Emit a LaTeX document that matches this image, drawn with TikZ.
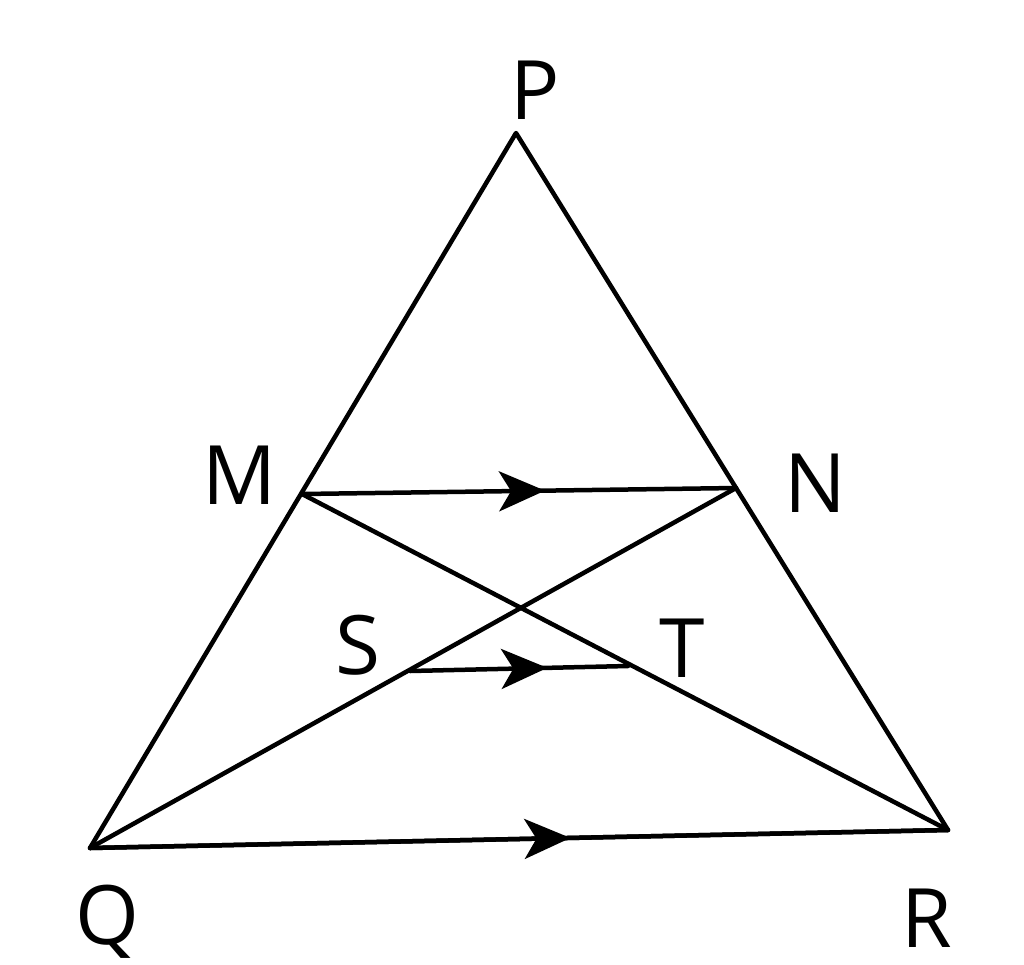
\documentclass[tikz,border=0pt]{standalone}
\usepackage{fontspec}
\setmainfont{Open Sans}
\usetikzlibrary{decorations.markings,arrows.meta}
\begin{document}
\begin{tikzpicture}[x=1pt,y=-1pt,
  ln/.style={line width=4.5pt,line cap=round,line join=round},
  mid/.style={postaction={decorate},decoration={markings,mark=at position #1 with {\arrow{Stealth[length=46pt,width=40pt,inset=12pt]}}}},
  lab/.style={font=\fontsize{82}{82}\selectfont,inner sep=0pt}]
\useasboundingbox (0,0) rectangle (1024,964);
\coordinate (P) at (516,133);
\coordinate (Q) at (90,848);
\coordinate (R) at (948,830);
\coordinate (M) at (302,494);
\coordinate (N) at (736,488);
\coordinate (S) at (410,671);
\coordinate (T) at (628,666);
\draw[ln] (P) -- (Q) -- (R) -- cycle;
\draw[ln] (M) -- (R);
\draw[ln] (N) -- (Q);
\draw[ln,mid=0.56] (M) -- (N);
\draw[ln,mid=0.63] (S) -- (T);
\draw[ln,mid=0.56] (Q) -- (R);
\node[lab] (lP) at (535,90) {P};
\node[lab] (lM) at (240,475) {M};
\node[lab] (lN) at (815,483) {N};
\node[lab] (lS) at (358,645) {S};
\node[lab] (lT) at (682,648) {T};
\node[lab] (lQ) at (107,922) {Q};
\node[lab] (lR) at (927,918) {R};
\end{tikzpicture}
\end{document}
